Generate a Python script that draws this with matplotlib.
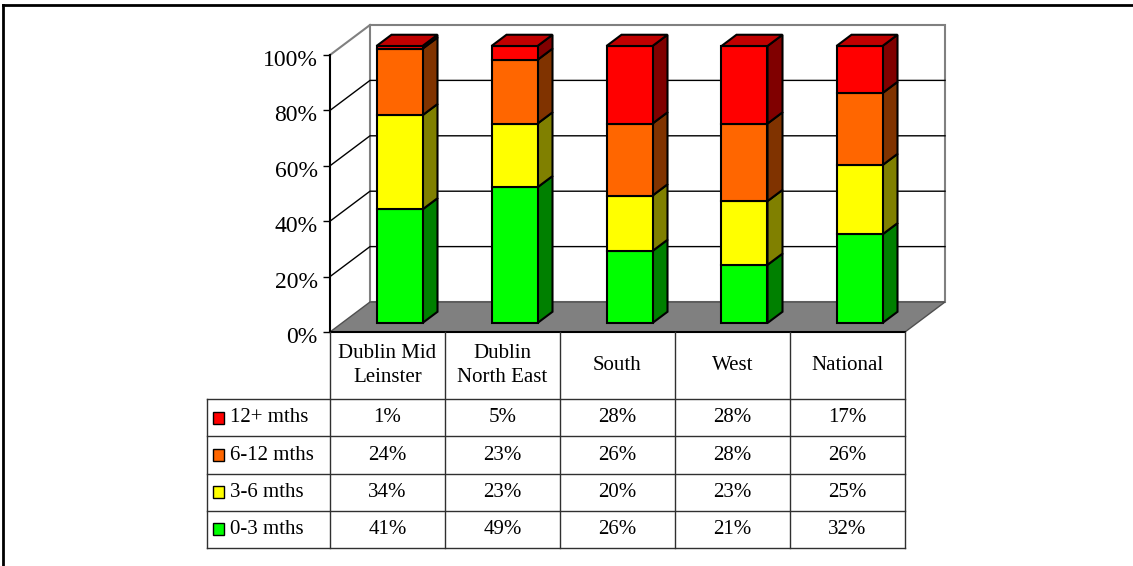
import matplotlib
matplotlib.use("Agg")
import matplotlib.pyplot as plt
from matplotlib.patches import Rectangle, Polygon
from matplotlib.transforms import ScaledTranslation

# data
categories = ["Dublin Mid\nLeinster", "Dublin\nNorth East", "South", "West", "National"]
series_names = ["0-3 mths", "3-6 mths", "6-12 mths", "12+ mths"]
m0_3 = [41, 49, 26, 21, 32]
m3_6 = [34, 23, 20, 23, 25]
m6_12 = [24, 23, 26, 28, 26]
m12 = [1, 5, 28, 28, 17]
yticks = [0, 20, 40, 60, 80, 100]

front_cols = ["#00FF00", "#FFFF00", "#FF6600", "#FF0000"]
side_cols = ["#008000", "#808000", "#803300", "#800000"]
top_col = "#C00000"

plt.rcParams["font.family"] = ["Liberation Serif", "DejaVu Serif"]

W, H = 1133, 566
fig = plt.figure(figsize=(W / 100, H / 100), dpi=100)


def fbox(x0, y0, x1, y1):
    return [x0 / W, 1 - y1 / H, (x1 - x0) / W, (y1 - y0) / H]


# page frame (top and left edges only)
fig.add_artist(plt.Line2D([3 / W, 1], [1 - 5 / H, 1 - 5 / H], color="black", lw=2))
fig.add_artist(plt.Line2D([3 / W, 3 / W], [0, 1 - 5 / H], color="black", lw=2))

ax = fig.add_axes(fbox(330, 55, 905, 332))
n = len(categories)
ax.set_xlim(0, n)
ax.set_ylim(0, 100)

DX = 40 / 115          # depth offset, category units
DY = 30 * 100 / 277    # depth offset, percent units
BW = 0.4               # bar width
F0, FD = 0.3, 0.375    # bar front depth, bar depth

# back wall + side wall
ax.add_patch(Polygon([(DX, DY), (n + DX, DY), (n + DX, 100 + DY), (DX, 100 + DY)],
                     closed=True, facecolor="white", edgecolor="#808080", lw=1.5, zorder=1, clip_on=False))
ax.plot([0, DX], [100, 100 + DY], color="#808080", lw=1.5, zorder=1, clip_on=False)
for v in yticks[1:-1]:
    ax.plot([0, DX, n + DX], [v, v + DY, v + DY], color="black", lw=1, zorder=1.5, clip_on=False)

# floor
ax.add_patch(Polygon([(0, 0), (n, 0), (n + DX, DY), (DX, DY)], closed=True,
                     facecolor="#808080", edgecolor="#505050", lw=1, zorder=2, clip_on=False))

# bars
stack = [m0_3, m3_6, m6_12, m12]
for i in range(n):
    x0 = i + 0.5 - BW / 2 + F0 * DX
    bottom = F0 * DY
    for s, vals in enumerate(stack):
        v = vals[i]
        ax.add_patch(Polygon([(x0 + BW, bottom), (x0 + BW + FD * DX, bottom + FD * DY),
                              (x0 + BW + FD * DX, bottom + v + FD * DY), (x0 + BW, bottom + v)],
                             closed=True, facecolor=side_cols[s], edgecolor="black", lw=1.5,
                             zorder=3, clip_on=False))
        ax.add_patch(Rectangle((x0, bottom), BW, v, facecolor=front_cols[s], edgecolor="black",
                               lw=1.5, zorder=4, clip_on=False))
        bottom += v
    ax.add_patch(Polygon([(x0, bottom), (x0 + BW, bottom), (x0 + BW + FD * DX, bottom + FD * DY),
                          (x0 + FD * DX, bottom + FD * DY)], closed=True, facecolor=top_col,
                         edgecolor="black", lw=1.5, zorder=4, clip_on=False))

for sp in ["top", "right", "bottom"]:
    ax.spines[sp].set_visible(False)
ax.spines["left"].set_linewidth(1.5)
ax.spines["left"].set_zorder(5)
ax.set_xticks([])
ax.set_yticks(yticks)
ax.set_yticklabels([f"{v}%" for v in yticks], fontsize=17)
ax.tick_params(axis="y", direction="out", length=5, width=1, pad=4)
shift = ScaledTranslation(0, -3 / 100, fig.dpi_scale_trans)
for lab in ax.get_yticklabels():
    lab.set_transform(lab.get_transform() + shift)
ax.patch.set_visible(False)

# data table
tab = fig.add_axes(fbox(207, 332, 905, 548))
LW = 123 / 115
HH = 67 / 37
tab.set_xlim(-LW, n)
tab.set_ylim(0, 4 + HH)
tab.axis("off")
lc = "#303030"
for r in range(5):
    tab.plot([-LW, n], [r, r], color=lc, lw=1, clip_on=False)
tab.plot([0, n], [4 + HH, 4 + HH], color="black", lw=1.5, clip_on=False)
tab.plot([-LW, -LW], [0, 4], color=lc, lw=1, clip_on=False)
for c in range(n + 1):
    tab.plot([c, c], [0, 4 + HH], color=lc, lw=1, clip_on=False)

fs = 15
for j, cat in enumerate(categories):
    tab.text(j + 0.5, 4 + HH / 2, cat, ha="center", va="center", fontsize=fs, linespacing=1.4)

rows = list(reversed(list(zip(series_names, stack, front_cols))))
for r, (name, vals, col) in enumerate(rows):
    yc = 4 - r - 0.5
    tab.add_patch(Rectangle((-LW + 0.055, yc - 0.16), 0.09, 0.32, facecolor=col,
                            edgecolor="black", lw=1, clip_on=False))
    tab.text(-LW + 0.2, yc, name, ha="left", va="center", fontsize=fs)
    for j, v in enumerate(vals):
        tab.text(j + 0.5, yc, f"{v}%", ha="center", va="center", fontsize=fs)

fig.savefig("out.png", dpi=100)
